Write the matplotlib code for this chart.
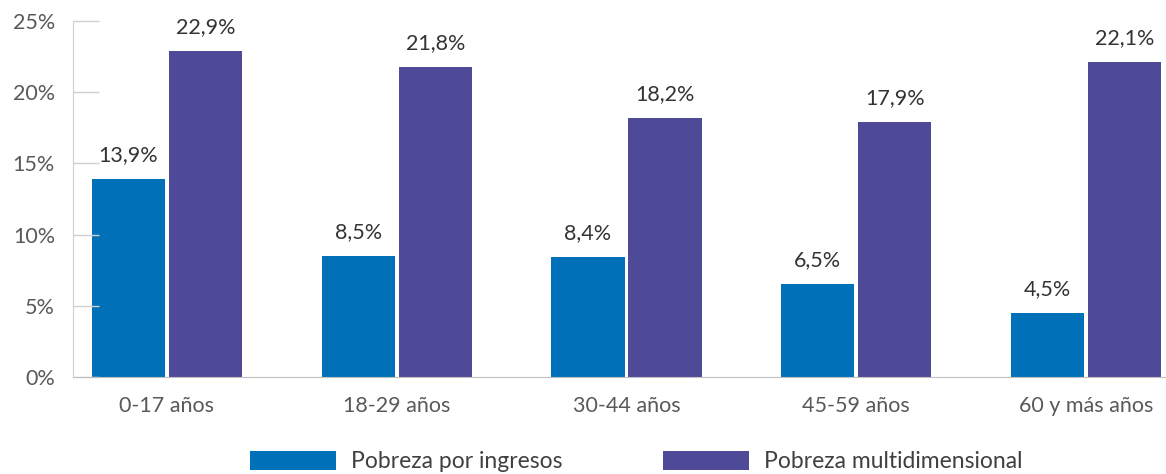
import matplotlib
matplotlib.use("Agg")
import matplotlib.pyplot as plt
import numpy as np

categories = ["0-17 años", "18-29 años", "30-44 años", "45-59 años", "60 y más años"]
ingresos = [13.9, 8.5, 8.4, 6.5, 4.5]
multidim = [22.9, 21.8, 18.2, 17.9, 22.1]
series_names = ["Pobreza por ingresos", "Pobreza multidimensional"]
yticks = [0, 5, 10, 15, 20, 25]

plt.rcParams['font.family'] = ['Lato', 'DejaVu Sans']

W, H = 1166, 474
fig = plt.figure(figsize=(W / 100, H / 100), dpi=100)
ax = fig.add_axes([73 / W, (H - 377) / H, (W - 73) / W, (377 - 21) / H])

x = np.arange(len(categories))
bw = 0.318
off = 0.1676
c1, c2 = "#0071B9", "#4F4A97"
b1 = ax.bar(x - off, ingresos, bw, color=c1, label=series_names[0])
b2 = ax.bar(x + off, multidim, bw, color=c2, label=series_names[1])

fmt = lambda v: f"{v:.1f}%".replace(".", ",")
ax.bar_label(b1, labels=[fmt(v) for v in ingresos], padding=10, fontsize=15.5, color="#333333")
ax.bar_label(b2, labels=[fmt(v) for v in multidim], padding=10, fontsize=15.5, color="#333333")

ax.set_xlim(-0.409, 4.348)
ax.set_ylim(0, 25)
ax.set_yticks(yticks)
ax.set_yticklabels([f"{t}%" for t in yticks], fontsize=15.5, color="#595959")
ax.set_xticks(x)
ax.set_xticklabels(categories, fontsize=15.5, color="#595959")
ax.tick_params(axis='y', direction='in', length=19, width=1, color="#D0D0D0", pad=13)
ax.tick_params(axis='x', length=0, pad=14)
for s in ["top", "right"]:
    ax.spines[s].set_visible(False)
ax.spines["left"].set_color("#D0D0D0")
ax.spines["bottom"].set_color("#BFBFBF")

leg = fig.legend(handles=[b1, b2], labels=series_names, loc="center",
                 bbox_to_anchor=(636 / W, 0.026), ncol=2, frameon=False, fontsize=16.5,
                 handlelength=3.75, handleheight=0.92, handletextpad=0.65,
                 columnspacing=4.4, borderaxespad=0, borderpad=0)
for t in leg.get_texts():
    t.set_color("#404040")

fig.savefig("out.png", dpi=100)
